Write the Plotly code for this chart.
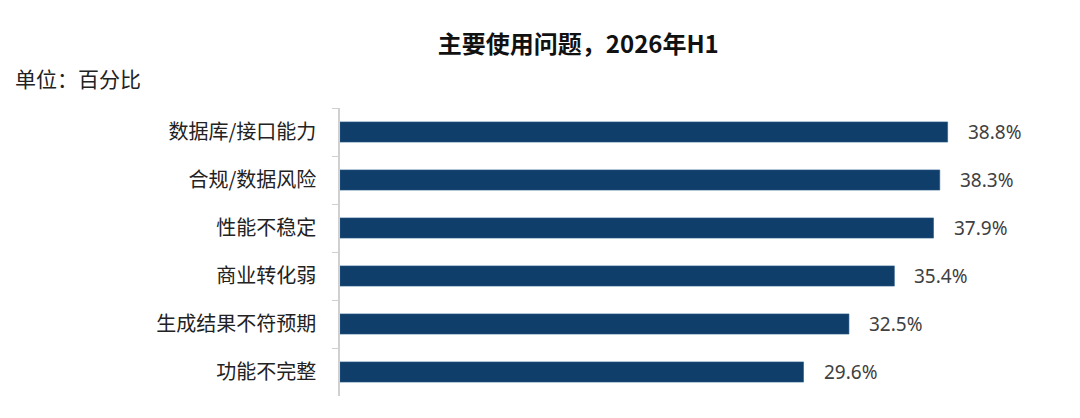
import plotly.graph_objects as go

# data
categories = ['数据库/接口能力', '合规/数据风险', '性能不稳定', '商业转化弱', '生成结果不符预期', '功能不完整']
values = [38.8, 38.3, 37.9, 35.4, 32.5, 29.6]
value_labels = ['38.8%', '38.3%', '37.9%', '35.4%', '32.5%', '29.6%']

bar_color = '#0f3e6b'
cjk_font = 'Noto Sans CJK SC'

fig = go.Figure()

fig.add_trace(go.Bar(
    x=values,
    y=categories,
    orientation='h',
    marker=dict(color=bar_color, line=dict(color='#2a5a86', width=0.6)),
    width=0.42,
    showlegend=False,
    hoverinfo='skip'
))

# value labels to the right of the bars
for cat, v, lab in zip(categories, values, value_labels):
    fig.add_annotation(
        x=v, y=cat, text=lab,
        xanchor='left', yanchor='middle',
        xshift=18, showarrow=False,
        font=dict(family='Noto Sans', size=19, color='#404040')
    )

# unit label, top left
fig.add_annotation(
    xref='paper', yref='paper',
    x=-0.4673, y=1.103,
    text='单位：百分比',
    xanchor='left', yanchor='middle',
    showarrow=False,
    font=dict(family=cjk_font, size=21, color='#222222')
)

# page body has an 8px margin, so the figure is drawn 8px smaller
fig.update_layout(
    width=1072,
    height=410,
    margin=dict(l=332, r=40, t=100, b=22),
    paper_bgcolor='white',
    plot_bgcolor='white',
    title=dict(
        text='<b>主要使用问题，2026年H1</b>',
        x=0.532, xref='container', xanchor='center',
        y=0.91, yref='container', yanchor='middle',
        font=dict(family=cjk_font, size=24, color='#111111')
    ),
    xaxis=dict(
        range=[0, 44.7],
        visible=False,
        showgrid=False,
        zeroline=False
    ),
    yaxis=dict(
        autorange='reversed',
        showgrid=False,
        showline=True,
        linecolor='#d0d0d0',
        linewidth=1.5,
        ticks='outside',
        tickson='boundaries',
        ticklen=6,
        tickcolor='#d0d0d0',
        ticklabelstandoff=18,
        tickfont=dict(family=cjk_font, size=20, color='#222222')
    ),
    bargap=0.58
)

fig.write_html("out.html")
